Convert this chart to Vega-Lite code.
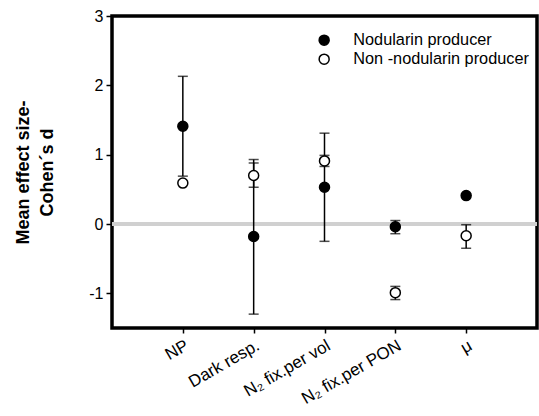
{
  "$schema": "https://vega.github.io/schema/vega-lite/v6.json",
  "autosize": "none",
  "width": 425,
  "height": 312,
  "padding": {"left": 112, "top": 16, "right": 2, "bottom": 88},
  "background": "white",
  "view": {"stroke": "black", "strokeWidth": 3.5},
  "config": {
    "font": "Liberation Sans",
    "axis": {"labelFont": "Liberation Sans", "titleFont": "Liberation Sans"},
    "legend": {"labelFont": "Liberation Sans"}
  },
  "data": {
    "values": [
      {"cat": "NP", "group": "Nodularin producer", "mean": 1.41, "lo": 0.69, "hi": 2.13},
      {"cat": "NP", "group": "Non -nodularin producer", "mean": 0.59, "lo": null, "hi": null},
      {"cat": "Dark resp.", "group": "Nodularin producer", "mean": -0.18, "lo": -1.30, "hi": 0.93},
      {"cat": "Dark resp.", "group": "Non -nodularin producer", "mean": 0.70, "lo": 0.53, "hi": 0.88},
      {"cat": "N₂ fix.per vol", "group": "Nodularin producer", "mean": 0.53, "lo": -0.25, "hi": 1.31},
      {"cat": "N₂ fix.per vol", "group": "Non -nodularin producer", "mean": 0.91, "lo": 0.83, "hi": 0.99},
      {"cat": "N₂ fix.per PON", "group": "Nodularin producer", "mean": -0.04, "lo": -0.14, "hi": 0.05},
      {"cat": "N₂ fix.per PON", "group": "Non -nodularin producer", "mean": -0.99, "lo": -1.09, "hi": -0.90},
      {"cat": "μ", "group": "Nodularin producer", "mean": 0.41, "lo": null, "hi": null},
      {"cat": "μ", "group": "Non -nodularin producer", "mean": -0.17, "lo": -0.35, "hi": -0.01}
    ]
  },
  "encoding": {
    "x": {
      "field": "cat",
      "type": "ordinal",
      "sort": ["NP", "Dark resp.", "N₂ fix.per vol", "N₂ fix.per PON", "μ"],
      "scale": {"type": "point", "padding": 1},
      "axis": {
        "title": null,
        "domain": false,
        "grid": false,
        "labelAngle": -30,
        "labelAlign": "right",
        "labelBaseline": "top",
        "labelFontSize": 17,
        "labelColor": "black",
        "labelPadding": 4,
        "labelLimit": 0,
        "tickColor": "black",
        "tickSize": 5,
        "tickWidth": 1.5
      }
    }
  },
  "resolve": {"scale": {"y": "independent"}, "axis": {"y": "independent"}},
  "layer": [
    {
      "layer": [
        {
          "data": {"values": [{"z": 0}]},
          "mark": {"type": "rule", "color": "#d0d0d0", "strokeWidth": 4},
          "encoding": {"y": {"field": "z", "type": "quantitative"}, "x": null}
        },
        {
          "transform": [{"filter": "datum.lo != null"}],
          "mark": {"type": "rule", "color": "black", "strokeWidth": 1.5},
          "encoding": {
            "y": {"field": "lo", "type": "quantitative"},
            "y2": {"field": "hi"}
          }
        },
        {
          "transform": [{"filter": "datum.lo != null"}],
          "mark": {"type": "tick", "color": "black", "size": 10, "thickness": 1.5},
          "encoding": {"y": {"field": "lo", "type": "quantitative"}}
        },
        {
          "transform": [{"filter": "datum.lo != null"}],
          "mark": {"type": "tick", "color": "black", "size": 10, "thickness": 1.5},
          "encoding": {"y": {"field": "hi", "type": "quantitative"}}
        },
        {
          "mark": {"type": "point", "shape": "circle", "filled": true, "stroke": "black", "strokeWidth": 1.5, "size": 100, "opacity": 1},
          "encoding": {
            "y": {
              "field": "mean",
              "type": "quantitative",
              "scale": {"domain": [-1.5, 3], "nice": false, "zero": false},
              "axis": {
                "title": "Cohen´s d",
                "titleFontSize": 18,
                "titleFontWeight": "bold",
                "titleColor": "black",
                "titlePadding": 32,
                "titleAlign": "center",
                "titleY": 156,
                "values": [-1, 0, 1, 2, 3],
                "labelExpr": "'' + datum.value",
                "domain": false,
                "grid": false,
                "labelFontSize": 16,
                "labelColor": "black",
                "labelPadding": 3,
                "tickColor": "black",
                "tickSize": 6,
                "tickWidth": 1.5
              }
            },
            "fill": {
              "field": "group",
              "type": "nominal",
              "scale": {"domain": ["Nodularin producer", "Non -nodularin producer"], "range": ["black", "white"]},
              "legend": {
                "title": null,
                "orient": "none",
                "legendX": 204,
                "legendY": 16,
                "padding": 0,
                "symbolType": "circle",
                "symbolSize": 100,
                "symbolStrokeColor": "black",
                "symbolStrokeWidth": 1.5,
                "labelFontSize": 16.3,
                "labelColor": "black",
                "labelOffset": 21,
                "labelLimit": 0,
                "rowPadding": 2
              }
            }
          }
        }
      ]
    },
    {
      "data": {"values": [{"z": 0}]},
      "mark": {"type": "rule", "strokeOpacity": 0, "strokeWidth": 0},
      "encoding": {
        "x": null,
        "y": {
          "field": "z",
          "type": "quantitative",
          "scale": {"domain": [-1.5, 3], "nice": false, "zero": false},
          "axis": {
            "orient": "left",
            "offset": 78,
            "title": "Mean effect size-",
            "titleFontSize": 18,
            "titleFontWeight": "bold",
            "titleColor": "black",
            "titlePadding": 2,
            "labels": false,
            "ticks": false,
            "domain": false,
            "grid": false
          }
        }
      }
    }
  ]
}
